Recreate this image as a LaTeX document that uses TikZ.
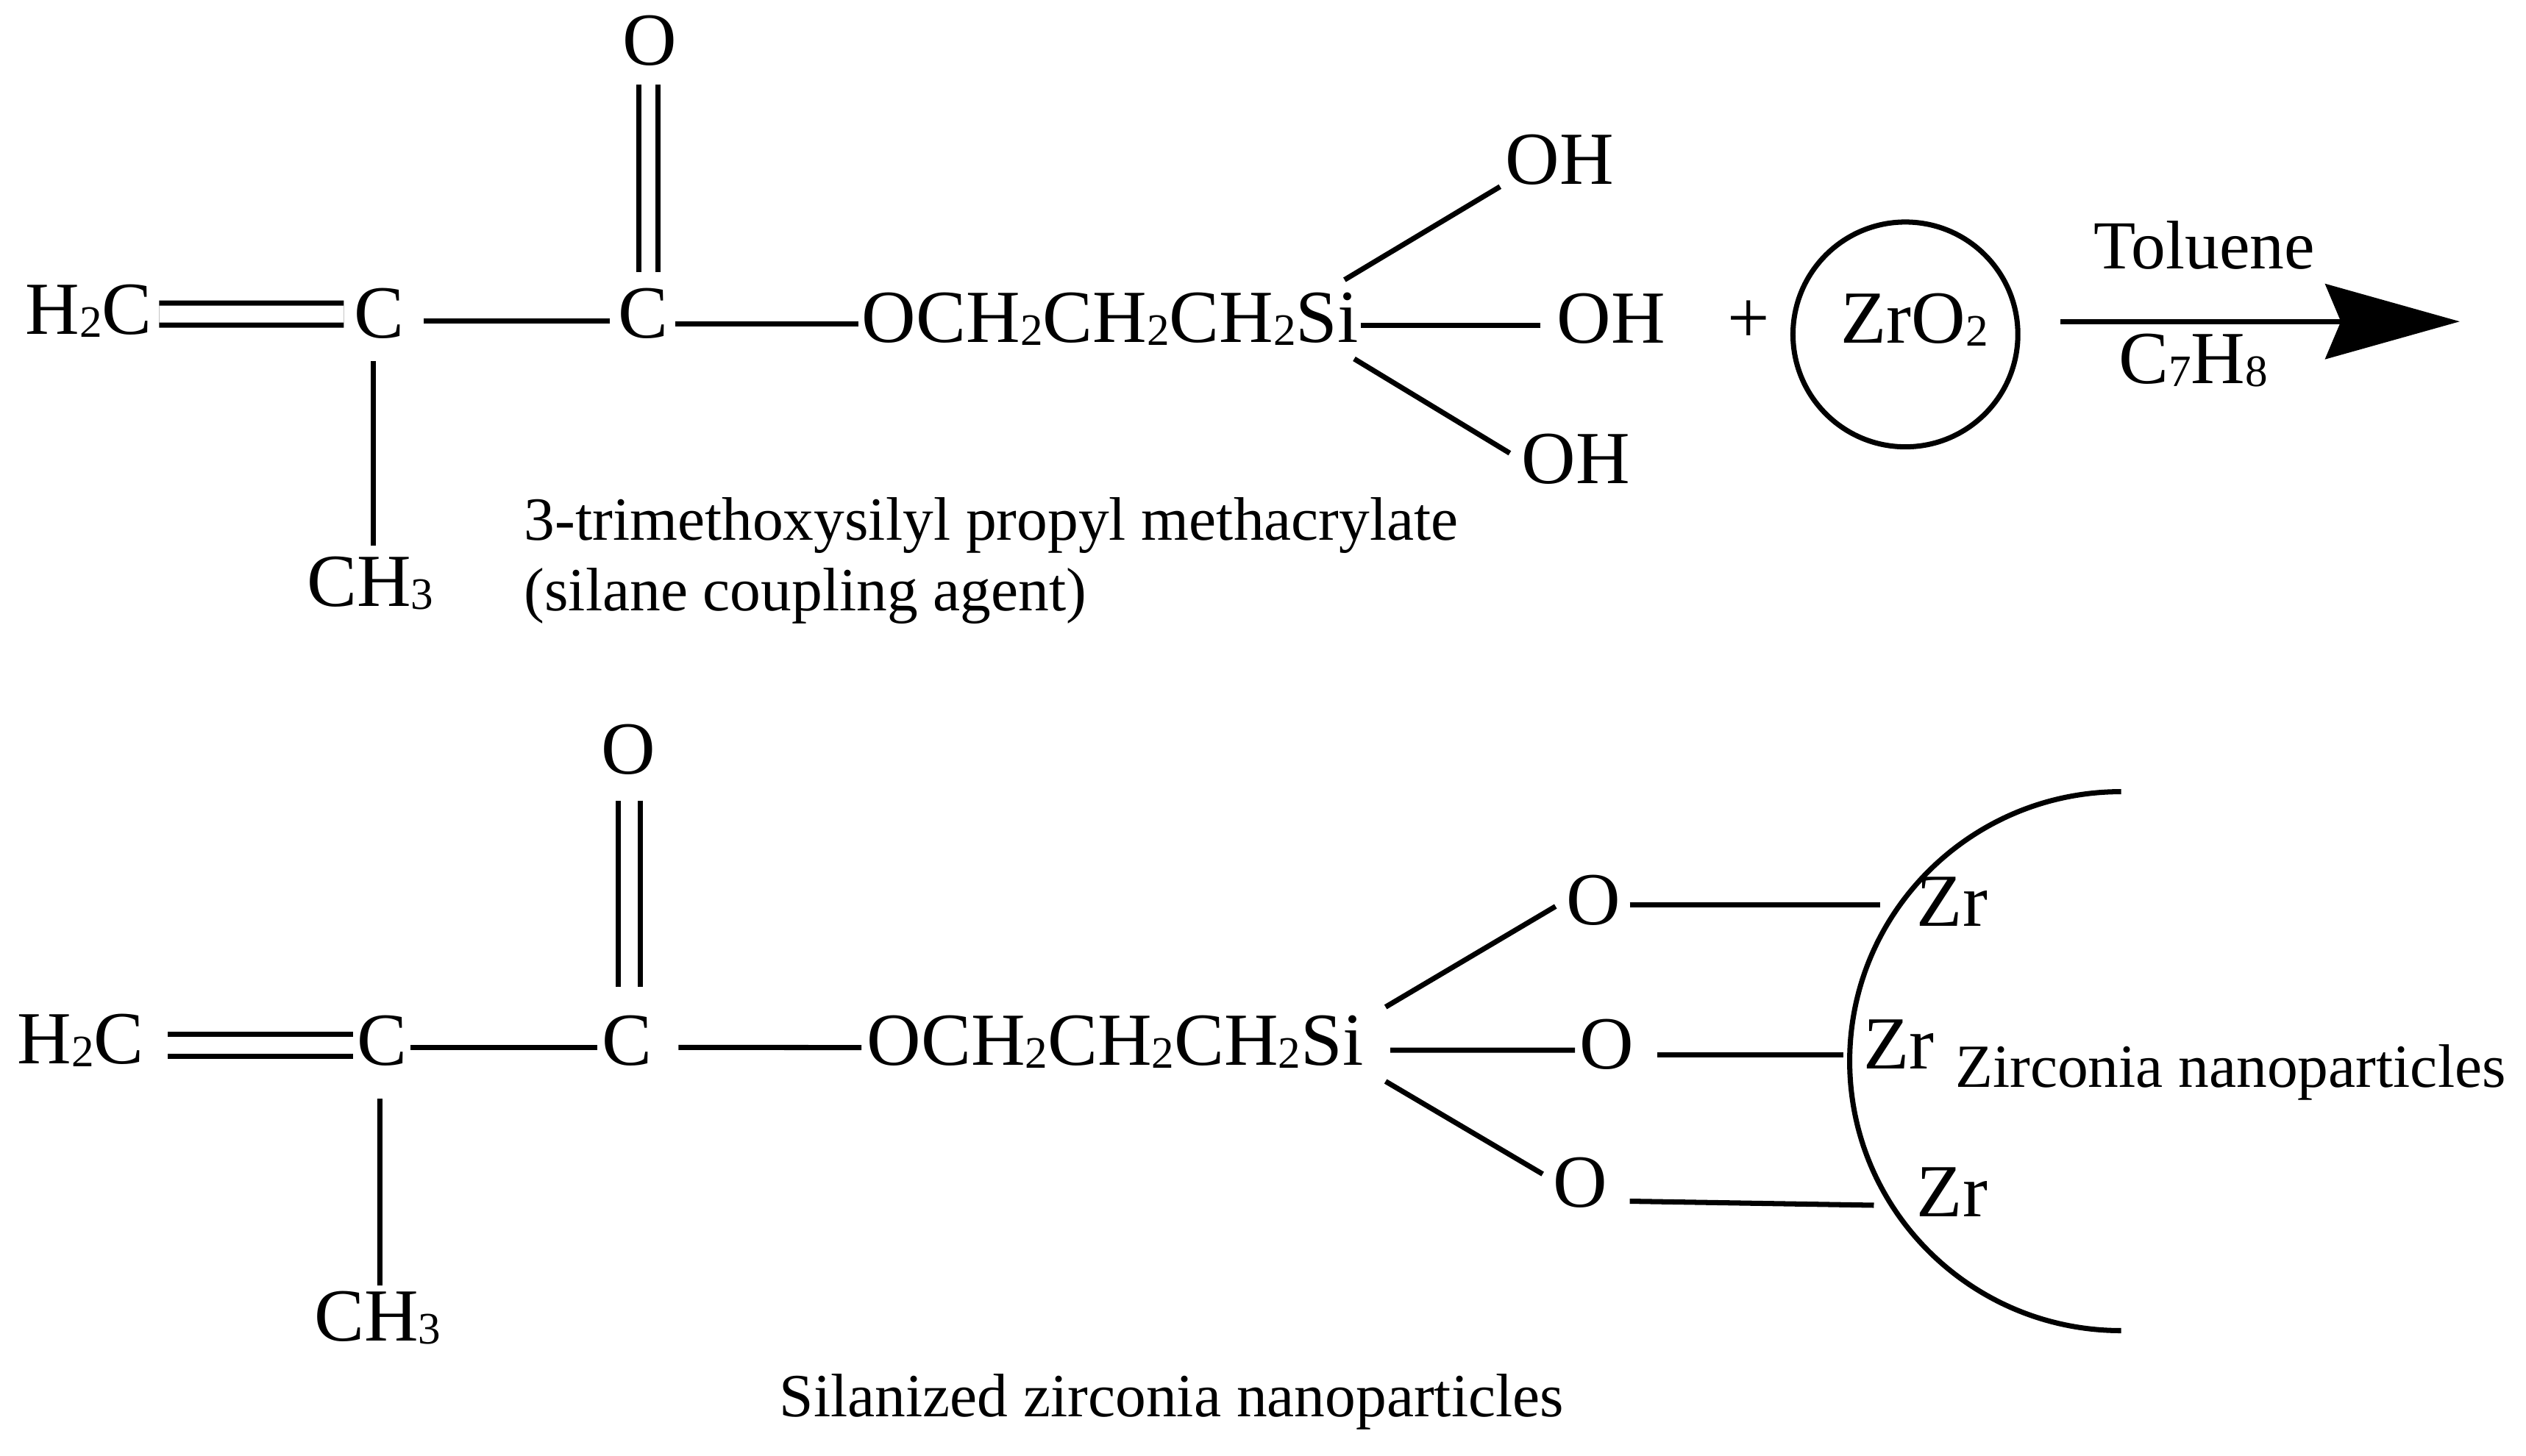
\documentclass[tikz,border=0pt]{standalone}
\usepackage{fontspec}
\setmainfont{Liberation Serif}
\usetikzlibrary{arrows.meta}
\newcommand{\sbs}[1]{\raisebox{-1.3pt}{\fontsize{17.4}{17.4}\selectfont #1}}
\tikzset{
  atom/.style={inner sep=0pt, text height=19pt, text depth=0pt, font=\fontsize{29}{34}\selectfont},
  note/.style={inner sep=0pt, font=\fontsize{23.75}{27.25}\selectfont},
  bond/.style={line width=2pt},
  dbond/.style={line width=2pt, double, double distance=6.5pt},
  reaction/.style={line width=2pt, -{Stealth[length=52pt,width=29pt,inset=6pt]}}
}
\begin{document}
\begin{tikzpicture}[x=0.021971cm,y=-0.021971cm]
  \useasboundingbox (0,0) rectangle (1563,901);

  % Nodes, silane
  \node[atom] (h2c) at (55,191.5) {H\sbs{2}C};
  \node[atom] (c1) at (234.5,194) {C};
  \node[atom] (c2) at (398,194) {C};
  \node[atom] (o0) at (402,25) {O};
  \node[atom] (ch3) at (229,360) {CH\sbs{3}};
  \node[atom] (chain) at (687,196.6) {OCH\sbs{2}CH\sbs{2}CH\sbs{2}Si};
  \node[atom] (oh1) at (965,99) {OH};
  \node[atom] (oh2) at (997,197) {OH};
  \node[atom] (oh3) at (975,284) {OH};
  \node[note,anchor=base west,align=left] (silane) at (324,378) {3-trimethoxysilyl propyl methacrylate\\(silane coupling agent)};

  % Nodes, reagents
  \node[atom] (plus) at (1082,197) {+};
  \node[draw,circle,line width=2pt,inner sep=0pt,minimum size=87pt] (ball) at (1179,207) {};
  \node[atom] (zro) at (1184.5,197) {ZrO\sbs{2}};
  \node[atom,font=\fontsize{26.6}{30}\selectfont] (toluene) at (1364,151) {Toluene};
  \node[atom] (c7h8) at (1357,222) {C\sbs{7}H\sbs{8}};
  \coordinate (arrowa) at (1275,199);
  \coordinate (arrowb) at (1522,199);

  % Nodes, product
  \node[atom] (h2cb) at (50,643) {H\sbs{2}C};
  \node[atom] (c1b) at (236.4,644) {C};
  \node[atom] (c2b) at (388,644) {C};
  \node[atom] (o0b) at (389,464) {O};
  \node[atom] (ch3b) at (233.7,814.7) {CH\sbs{3}};
  \node[atom] (chainb) at (690,644) {OCH\sbs{2}CH\sbs{2}CH\sbs{2}Si};
  \node[atom] (o1) at (986,557) {O};
  \node[atom] (o2) at (994,646.5) {O};
  \node[atom] (o3) at (978,732) {O};
  \node[atom] (zr1) at (1208,558) {Zr};
  \node[atom] (zr2) at (1175,646.5) {Zr};
  \node[atom] (zr3) at (1208,738) {Zr};
  \node[note,anchor=base west] (zirconia) at (1209.5,673) {Zirconia nanoparticles};
  \node[note,anchor=base] (silanized) at (725,877) {Silanized zirconia nanoparticles};
  \coordinate (arctop) at (1312.5,490);

  % Bonds, silane
  \draw[dbond] ([shift={(4,2.9)}]h2c.east) -- ([shift={(-6,0.4)}]c1.west);
  \draw[bond] ([shift={(12,4.6)}]c1.east) -- ([shift={(-5,4.6)}]c2.west);
  \draw[bond] ([shift={(4,6.7)}]c2.east) -- ([shift={(-2,4.1)}]chain.west);
  \draw[bond] ([shift={(-3.5,14)}]c1.south) -- ([shift={(2,-6.8)}]ch3.north);
  \draw[dbond,double distance=5.4pt] ([shift={(-1,12)}]o0.south) -- ([shift={(3,-10)}]c2.north);
  \draw[bond] ([shift={(-9,-7.9)}]chain.north east) -- ([shift={(-3,1)}]oh1.south west);
  \draw[bond] ([shift={(1,5)}]chain.east) -- ([shift={(-10,4.6)}]oh2.west);
  \draw[bond] ([shift={(-3,10)}]chain.south east) -- ([shift={(-7,12)}]oh3.north west);

  % Arrow
  \draw[reaction] (arrowa) -- (arrowb);

  % Bonds, product
  \draw[dbond] ([shift={(14.5,4)}]h2cb.east) -- ([shift={(-2,3)}]c1b.west);
  \draw[bond] ([shift={(2,4.3)}]c1b.east) -- ([shift={(-2.7,4.3)}]c2b.west);
  \draw[bond] ([shift={(16,4.3)}]c2b.east) -- ([shift={(-3,4.4)}]chainb.west);
  \draw[bond] ([shift={(-1.4,20.5)}]c1b.south) -- ([shift={(1.3,-3.5)}]ch3b.north);
  \draw[dbond] ([shift={(0.4,16)}]o0b.south) -- ([shift={(1.4,-17.8)}]c2b.north);
  \draw[bond] ([shift={(13.4,-5.2)}]chainb.north east) -- ([shift={(-6.4,4)}]o1.west);
  \draw[bond] ([shift={(16.4,6)}]chainb.east) -- ([shift={(-2.4,3.5)}]o2.west);
  \draw[bond] ([shift={(13.4,9.8)}]chainb.south east) -- ([shift={(-6.4,10.2)}]o3.north west);
  \draw[bond] ([shift={(5.4,3)}]o1.east) -- ([shift={(-22.3,2)}]zr1.west);
  \draw[bond] ([shift={(14.4,6.2)}]o2.east) -- ([shift={(-12.3,6.2)}]zr2.west);
  \draw[bond] ([shift={(13.4,11.5)}]o3.east) -- ([shift={(-26.3,8)}]zr3.west);

  % Particle surface
  \draw[bond] (arctop) arc[start angle=90,end angle=270,x radius=3.691cm,y radius=3.665cm];
\end{tikzpicture}
\end{document}
